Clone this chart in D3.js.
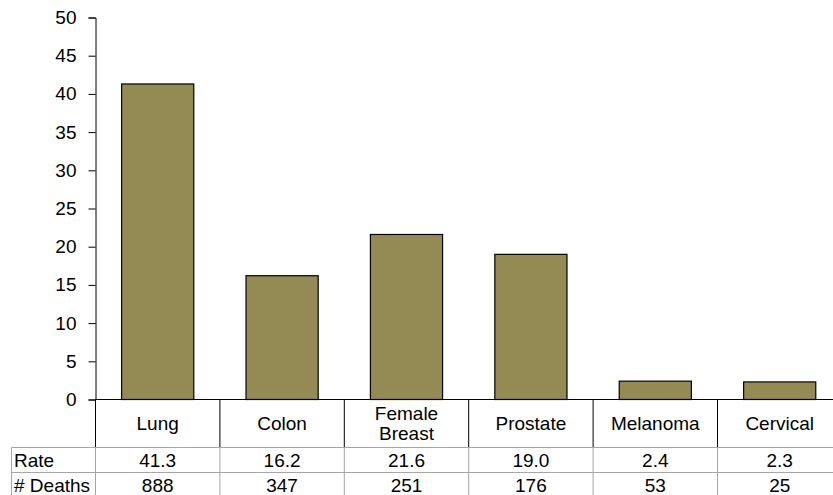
<!DOCTYPE html>
<html><head><meta charset="utf-8">
<script src="https://cdn.jsdelivr.net/npm/d3@7"></script>
<style>body{margin:0;background:#fff}svg{display:block}text{font-family:"Liberation Sans",Arial,sans-serif;fill:#000}</style>
</head><body><svg width="833" height="495"></svg>
<script>
const categories = ["Lung", "Colon", "Female\nBreast", "Prostate", "Melanoma", "Cervical"];
const rates = [41.3, 16.2, 21.6, 19.0, 2.4, 2.3];
const deaths = [888, 347, 251, 176, 53, 25];
const rowLabels = ["Rate", "# Deaths"];
const yTicks = [0, 5, 10, 15, 20, 25, 30, 35, 40, 45, 50];

const svg = d3.select("svg");
const x0 = 95.5, colW = 124.4;
const x = d3.scaleBand().domain(d3.range(categories.length)).range([x0, x0 + colW * categories.length]).paddingInner(0).paddingOuter(0);
const y = d3.scaleLinear().domain([0, 50]).range([399.5, 17.5]);
const fs = 19;

// bars
const bw = x.bandwidth() * 0.58;
svg.selectAll("rect.bar").data(rates).join("rect")
  .attr("x", (d, i) => x(i) + (x.bandwidth() - bw) / 2)
  .attr("y", d => y(d))
  .attr("width", bw)
  .attr("height", d => y(0) - y(d))
  .attr("fill", "#948A54").attr("stroke", "#000").attr("stroke-width", 1.2);

// y axis
const yAxis = d3.axisLeft(y).tickValues(yTicks).tickSize(7).tickPadding(12);
const ga = svg.append("g").attr("transform", `translate(${x0},0)`).call(yAxis);
ga.select(".domain").attr("stroke", "#000");
ga.selectAll(".tick line").attr("stroke", "#000");
ga.selectAll("text").style("font-size", fs + "px").style("font-family", '"Liberation Sans",Arial,sans-serif').attr("fill", "#000");

// x baseline
svg.append("line").attr("x1", x0).attr("x2", 833).attr("y1", y(0)).attr("y2", y(0)).attr("stroke", "#000");

// table
const hdrBottom = 447.5, rowH = 25, tblLeft = 11.5;
const seps = d3.range(categories.length + 1).map(i => x0 + i * colW);
svg.selectAll("line.hsep").data(seps).join("line")
  .attr("x1", d => d).attr("x2", d => d).attr("y1", y(0)).attr("y2", hdrBottom)
  .attr("stroke", "#000");
const gray = "#a6a6a6";
[hdrBottom, hdrBottom + rowH, hdrBottom + 2 * rowH].forEach(yy => {
  svg.append("line").attr("x1", tblLeft).attr("x2", 833).attr("y1", yy).attr("y2", yy).attr("stroke", gray);
});
[tblLeft].concat(seps).forEach(xx => {
  svg.append("line").attr("x1", xx).attr("x2", xx).attr("y1", hdrBottom).attr("y2", hdrBottom + 2 * rowH).attr("stroke", gray);
});

// category labels
categories.forEach((c, i) => {
  const lines = c.split("\n");
  const cx = x(i) + x.bandwidth() / 2;
  const t = svg.append("text").attr("text-anchor", "middle").style("font-size", fs + "px");
  const lh = 20;
  const cy = (y(0) + hdrBottom) / 2;
  lines.forEach((l, j) => {
    t.append("tspan").attr("x", cx).attr("y", cy + (j - (lines.length - 1) / 2) * lh).attr("dy", "0.35em").text(l);
  });
});

// row labels
rowLabels.forEach((r, j) => {
  svg.append("text").attr("x", tblLeft + 2.5).attr("y", hdrBottom + rowH * j + rowH / 2).attr("dy", "0.35em")
    .style("font-size", fs + "px").text(r);
});
const rows = [rates.map(d => d.toFixed(1)), deaths.map(String)];
rows.forEach((vals, j) => {
  vals.forEach((v, i) => {
    svg.append("text").attr("x", x(i) + x.bandwidth() / 2).attr("y", hdrBottom + rowH * j + rowH / 2).attr("dy", "0.35em")
      .attr("text-anchor", "middle").style("font-size", fs + "px").text(v);
  });
});
</script></body></html>
